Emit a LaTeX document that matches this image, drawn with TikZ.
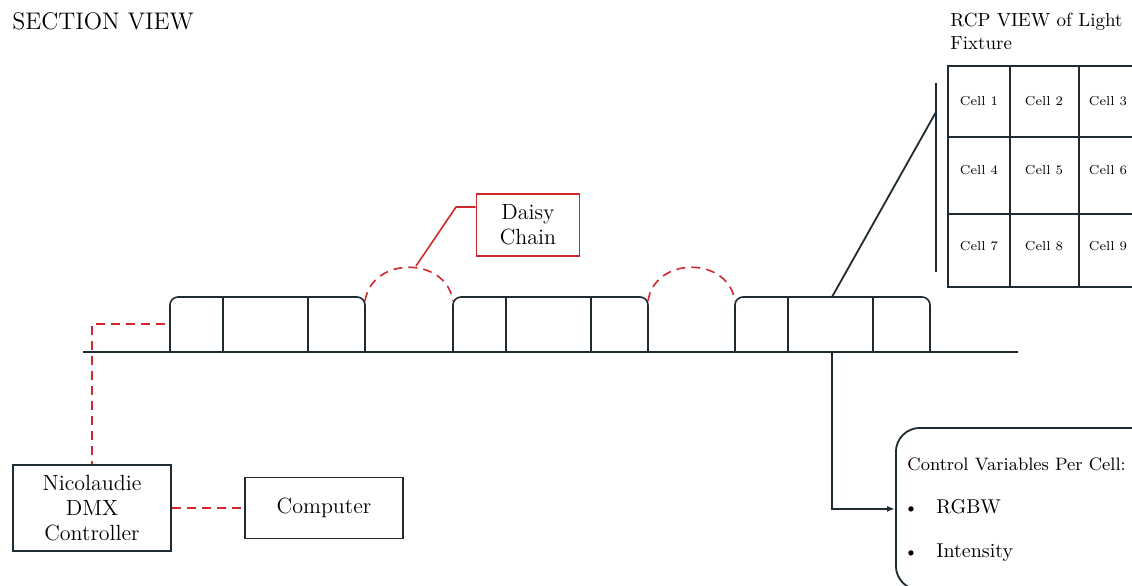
\documentclass[tikz,border=0pt]{standalone}
\usetikzlibrary{arrows.meta}
\definecolor{lineclr}{HTML}{1E2B33}
\definecolor{chainred}{HTML}{D0282E}
\tikzset{
	fixture/.style={draw=lineclr, line width=0.8pt},
	box/.style={draw=lineclr, line width=0.9pt, align=center, inner sep=0pt, font=\fontsize{11}{12.5}\selectfont},
	chain/.style={draw=chainred, line width=0.8pt, dash pattern=on 4.5pt off 3pt},
	cell/.style={font=\fontsize{6.5}{8}\selectfont, inner sep=0pt},
	label text/.style={anchor=base west, inner sep=0pt},
}
\begin{document}
\begin{tikzpicture}[x=0.5pt, y=-0.5pt]
	\useasboundingbox (0,0) rectangle (1132,585);
	\clip (0,0) rectangle (1132,585);
	% titles
	\node[label text, font=\fontsize{12}{14}\selectfont] (sec) at (12,29) {SECTION VIEW};
	\node[label text, align=left, font=\fontsize{9.5}{11.5}\selectfont] (rcp) at (950,49) {RCP VIEW of Light\\Fixture};
	% ground
	\coordinate (g0) at (83,352);
	\coordinate (g1) at (1018,352);
	\draw[lineclr, line width=1pt] (g0) -- (g1);
	% fixtures
	\foreach \x/\n in {170/1,453/2,735/3}{
		\draw[fixture, rounded corners=4pt] (\x,352) -- (\x,297) -- (\x+195,297) -- (\x+195,352);
		\draw[fixture] (\x+53,297) -- (\x+53,352) (\x+138,297) -- (\x+138,352);
		\coordinate (fix\n) at (\x+97,297);
		\coordinate (nw\n) at (\x,301);
		\coordinate (ne\n) at (\x+195,301);
		\coordinate (w\n) at (\x-5,324);
	}
	% daisy chain
	\draw[chain] (ne1) .. controls +(7,-45) and +(-7,-45) .. (nw2);
	\draw[chain] (ne2) .. controls +(7,-45) and +(-7,-45) .. (nw3);
	\coordinate (peak1) at (416,266);
	\coordinate (bend) at (456,207);
	\node[box, draw=chainred, minimum width=51.5pt, minimum height=31pt] (dc) at (528,225) {Daisy\\Chain};
	\draw[chainred, line width=0.8pt] ([yshift=9pt]dc.west) -- (bend) -- (peak1);
	% controller
	\node[box, minimum width=79pt, minimum height=43pt] (dmx) at (92,508) {Nicolaudie\\DMX\\Controller};
	\node[box, minimum width=79pt, minimum height=30.5pt] (pc) at (324,508) {Computer};
	\draw[chain] (dmx.east) -- (pc.west);
	\draw[chain] (w1) -| (dmx.north);
	% rcp view
	\coordinate (bartop) at (936,83);
	\coordinate (barbot) at (936,272);
	\coordinate (zoom) at (936,112);
	\draw[lineclr, line width=1pt] (bartop) -- (barbot);
	\draw[lineclr, line width=0.9pt] (fix3) -- (zoom);
	\draw[lineclr, line width=1pt] (948,66) rectangle (1140,287);
	\draw[lineclr, line width=1pt] (1010,66) -- (1010,287) (1079,66) -- (1079,287)
		(948,137) -- (1140,137) (948,214) -- (1140,214);
	\foreach \y [count=\r from 0] in {101,170,246}
		\foreach \x [count=\c] in {979,1044,1108}{
			\pgfmathtruncatemacro\n{3*\r+\c}
			\node[cell] (cell\n) at (\x,\y) {Cell \n};
		}
	% control variables
	\node[draw=lineclr, line width=0.9pt, rounded corners=12pt, minimum width=140pt, minimum height=81pt, anchor=north west, inner sep=0pt] (ctrl) at (895,427) {};
	\coordinate (tap) at (832,352);
	\draw[lineclr, line width=0.9pt, -{Latex[length=4pt,width=3pt]}] (tap) |- (ctrl.west);
	\node[label text, font=\fontsize{9}{11}\selectfont] (cv) at (907,470) {Control Variables Per Cell:};
	\node[anchor=base, inner sep=0pt, font=\fontsize{9}{11}\selectfont] (b1) at (911,513) {\textbullet};
	\node[anchor=base, inner sep=0pt, font=\fontsize{9}{11}\selectfont] (b2) at (911,557) {\textbullet};
	\node[label text, font=\fontsize{10}{12}\selectfont] (rgbw) at (936,513) {RGBW};
	\node[label text, font=\fontsize{10}{12}\selectfont] (int) at (936,557) {Intensity};
\end{tikzpicture}
\end{document}
